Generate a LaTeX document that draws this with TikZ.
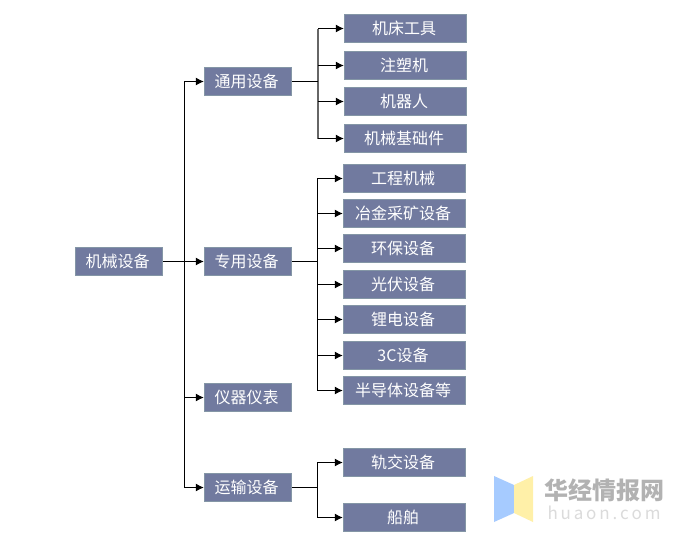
\documentclass[tikz,border=0pt]{standalone}
\usepackage{fontspec}
\setmainfont{Noto Sans CJK SC}
\usetikzlibrary{arrows.meta}
\definecolor{boxfill}{HTML}{717A9F}
\definecolor{boxline}{HTML}{8496A6}
\definecolor{wmblue}{HTML}{A6CBFF}
\definecolor{wmyellow}{HTML}{FFF0A8}
\tikzset{
  base/.style={draw=boxline,fill=boxfill,line width=0.9pt,text=white,font=\fontsize{16}{16}\selectfont,inner sep=0pt,minimum height=28.5pt,anchor=center,execute at end node={\hspace{3pt}}},
  lvla/.style={base,minimum width=87.5pt},
  lvlb/.style={base,minimum width=122.5pt},
  conn/.style={draw=black,line width=1pt,-{Latex[length=8pt,width=8pt]}},
  plain/.style={draw=black,line width=1pt},
  trunk/.style={draw=black!60,line width=1.3pt}
}
\begin{document}
\begin{tikzpicture}[x=1pt,y=-1pt]
\useasboundingbox[fill=white] (0,0) rectangle (685,542);
\node[lvla] (root) at (119,261.5) {机械设备};
\node[lvla] (tong) at (248,81.5) {通用设备};
\node[lvla] (zhuan) at (248,261.5) {专用设备};
\node[lvla] (yi) at (248,397.5) {仪器仪表};
\node[lvla] (yun) at (248,487.5) {运输设备};
\node[lvlb] (a1) at (405.5,28.5) {机床工具};
\node[lvlb] (a2) at (405.5,65.5) {注塑机};
\node[lvlb] (a3) at (405.5,101.5) {机器人};
\node[lvlb] (a4) at (405.5,138.5) {机械基础件};
\node[lvlb] (b1) at (404.5,178.5) {工程机械};
\node[lvlb] (b2) at (404.5,213.5) {冶金采矿设备};
\node[lvlb] (b3) at (404.5,248.5) {环保设备};
\node[lvlb] (b4) at (404.5,284.5) {光伏设备};
\node[lvlb] (b5) at (404.5,319.5) {锂电设备};
\node[lvlb] (b6) at (404.5,355.5) {3C设备};
\node[lvlb] (b7) at (404.5,390.5) {半导体设备等};
\node[lvlb] (c1) at (404.5,462.5) {轨交设备};
\node[lvlb] (c2) at (404.5,517.5) {船舶};
\coordinate (j0) at (184,261.5);
\coordinate (j1) at (318,81.5);
\coordinate (j2) at (317,261.5);
\coordinate (j3) at (317,487.5);
\draw[plain] (j0 |- tong.west) -- (j0 |- yun.west);
\draw[conn] (root.east) -- (zhuan.west);
\foreach \t in {tong,yi,yun} \draw[conn] (j0 |- \t.west) -- (\t.west);
\draw[trunk] (j1 |- a1.west) -- (j1 |- a4.west);
\draw[plain] (tong.east) -- (j1);
\foreach \t in {a1,a2,a3,a4} \draw[conn] (j1 |- \t.west) -- (\t.west);
\draw[plain] (j2 |- b1.west) -- (j2 |- b7.west);
\draw[plain] (zhuan.east) -- (j2);
\foreach \t in {b1,b2,b3,b4,b5,b6,b7} \draw[conn] (j2 |- \t.west) -- (\t.west);
\draw[plain] (j3 |- c1.west) -- (j3 |- c2.west);
\draw[plain] (yun.east) -- (j3);
\foreach \t in {c1,c2} \draw[conn] (j3 |- \t.west) -- (\t.west);
% watermark
\fill[wmblue] (494,476) -- (514,485) -- (514,513) -- (494,522) -- cycle;
\fill[wmyellow] (514,485) -- (533,476) -- (533,522) -- (514,513) -- cycle;
\node[text=black!30,font=\fontsize{24}{24}\selectfont\bfseries,inner sep=0pt] (wm1) at (604,490) {华经情报网};
\node[text=black!14,font=\fontsize{17}{17}\selectfont,inner sep=0pt] (wm2) at (604,513) {h\,u\,a\,o\,n\,.\,c\,o\,m};
\end{tikzpicture}
\end{document}
